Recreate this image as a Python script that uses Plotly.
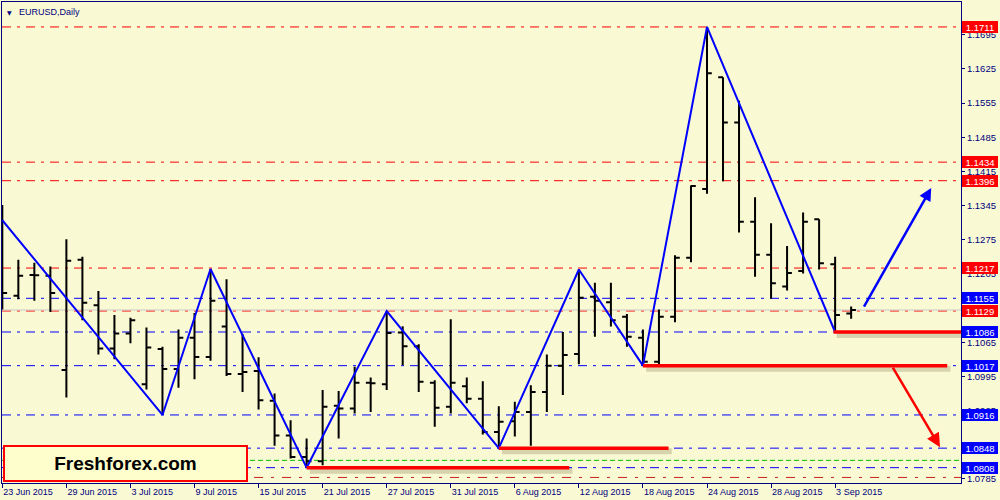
import pandas as pd
import plotly.graph_objects as go

# EURUSD daily bars, 23 Jun 2015 - 4 Sep 2015 (one bar per trading day)
dates = pd.bdate_range("2015-06-23", "2015-09-04")
bar_idx = list(range(len(dates)))

opens = [1.1337, 1.1160, 1.1203, 1.1201, 1.1008, 1.1234, 1.1141, 1.1052, 1.1083, 1.0979,
         1.1051, 1.1010, 1.1074, 1.1035, 1.1097, 1.1000, 1.1006, 1.0945, 1.0874, 1.0830,
         1.0821, 1.0935, 1.0929, 1.0982, 1.0979, 1.1085, 1.1057, 1.0982, 1.0933, 1.0975,
         1.0949, 1.0881, 1.0903, 1.0922, 1.0963, 1.1017, 1.1041, 1.1158, 1.1147, 1.1117,
         1.1074, 1.1025, 1.1117, 1.1238, 1.1379, 1.1608, 1.1515, 1.1312, 1.1244, 1.1179,
         1.1211, 1.1317, 1.1225, 1.1124]
highs = [1.1346, 1.1234, 1.1228, 1.1220, 1.1276, 1.1240, 1.1170, 1.1121, 1.1115, 1.1095,
         1.1056, 1.1091, 1.1125, 1.1215, 1.1194, 1.1082, 1.1034, 1.0960, 1.0905, 1.0868,
         1.0967, 1.0965, 1.1015, 1.0993, 1.1129, 1.1098, 1.1061, 1.0987, 1.1112, 1.0993,
         1.0985, 1.0934, 1.0943, 1.0977, 1.1040, 1.1086, 1.1214, 1.1187, 1.1187, 1.1123,
         1.1091, 1.1132, 1.1243, 1.1386, 1.1711, 1.1608, 1.1560, 1.1362, 1.1309, 1.1262,
         1.1331, 1.1317, 1.1240, 1.1138]
lows = [1.1132, 1.1153, 1.1150, 1.1127, 1.0952, 1.1110, 1.1040, 1.1030, 1.1063, 1.0968,
        1.0916, 1.0972, 1.0989, 1.1027, 1.0996, 1.0963, 1.0927, 1.0853, 1.0827, 1.0808,
        1.0813, 1.0868, 1.0919, 1.0922, 1.0967, 1.1018, 1.0963, 1.0892, 1.0919, 1.0940,
        1.0876, 1.0848, 1.0872, 1.0853, 1.0922, 1.0957, 1.1020, 1.1076, 1.1097, 1.1056,
        1.1017, 1.1018, 1.1106, 1.1229, 1.1369, 1.1395, 1.1290, 1.1199, 1.1154, 1.1171,
        1.1206, 1.1214, 1.1086, 1.1113]
closes = [1.1166, 1.1201, 1.1202, 1.1166, 1.1232, 1.1146, 1.1052, 1.1083, 1.1110, 1.1054,
          1.1010, 1.1074, 1.1035, 1.1150, 1.1000, 1.1004, 1.0946, 1.0874, 1.0830, 1.0821,
          1.0933, 1.0929, 1.0982, 1.0981, 1.1084, 1.1057, 1.0984, 1.0931, 1.0982, 1.0949,
          1.0881, 1.0902, 1.0922, 1.0963, 1.1017, 1.1039, 1.1156, 1.1150, 1.1110, 1.1076,
          1.1025, 1.1117, 1.1238, 1.1385, 1.1616, 1.1515, 1.1312, 1.1244, 1.1186, 1.1207,
          1.1312, 1.1227, 1.1121, 1.1131]

# zigzag swing points (bar index, price)
zz_idx = [0, 10, 13, 19, 24, 31, 36, 40, 44, 52]
zz_price = [1.1315, 1.0916, 1.1215, 1.0808, 1.1129, 1.0848, 1.1214, 1.1017, 1.1711, 1.1086]

# horizontal levels
red_levels = [1.1711, 1.1434, 1.1396, 1.1217, 1.1129]
blue_levels = [1.1155, 1.1086, 1.1017, 1.0916, 1.0848, 1.0808]
green_level = 1.0823
darkred_level = 1.0788
bid_level = 1.1131

# thick red support segments: (from bar, to bar, price)
supports = [(19, 35.4, 1.0808), (31, 41.6, 1.0848), (40, 59.0, 1.1017), (51.9, 59.9, 1.1086)]

# arrows: (tail bar, tail price, head bar, head price)
up_arrow = (53.75, 1.1135, 58.0, 1.1381)
down_arrow = (55.55, 1.1016, 58.55, 1.0850)

y_ticks = [1.0785, 1.0855, 1.0925, 1.0995, 1.1065, 1.1135, 1.1205,
           1.1275, 1.1345, 1.1415, 1.1485, 1.1555, 1.1625, 1.1695]
# these two sit fully under level labels on the scale
hidden_ticks = [1.0855, 1.1135]

tick_idx = bar_idx[::4]
tick_text = [f"{d.day} {d:%b %Y}" for d in dates[::4]]

BG = "#F9F9D3"
NAVY = "#000080"
DASHDOT = "9px,6px,3px,6px"

fig = go.Figure()

fig.add_trace(go.Ohlc(
    x=bar_idx, open=opens, high=highs, low=lows, close=closes,
    increasing=dict(line=dict(color="black", width=2)),
    decreasing=dict(line=dict(color="black", width=2)),
    tickwidth=0.3, hoverinfo="skip",
))

fig.add_trace(go.Scatter(
    x=zz_idx, y=zz_price, mode="lines",
    line=dict(color="#0000FF", width=2), hoverinfo="skip",
))

# dash-dot levels across the whole chart
for lv in red_levels:
    fig.add_shape(type="line", xref="paper", x0=0, x1=1, yref="y", y0=lv, y1=lv,
                  line=dict(color="#FF0000", width=1, dash=DASHDOT), layer="below")
for lv in blue_levels:
    fig.add_shape(type="line", xref="paper", x0=0, x1=1, yref="y", y0=lv, y1=lv,
                  line=dict(color="#0000FF", width=1, dash=DASHDOT), layer="below")
fig.add_shape(type="line", xref="paper", x0=0, x1=1, yref="y", y0=green_level, y1=green_level,
              line=dict(color="#00C000", width=1, dash="5px,3px"), layer="below")
fig.add_shape(type="line", xref="paper", x0=0, x1=1, yref="y", y0=darkred_level, y1=darkred_level,
              line=dict(color="#C82020", width=1, dash="9px,8px,3px,8px"), layer="below")
fig.add_shape(type="line", xref="paper", x0=0, x1=1, yref="y", y0=bid_level, y1=bid_level,
              line=dict(color="#C8C8C8", width=1), layer="below")

# red support segments with a soft shadow
for x0, x1, lv in supports:
    fig.add_shape(type="line", x0=x0 + 0.2, x1=x1 + 0.2, ysizemode="pixel", yanchor=lv,
                  y0=-3, y1=-3, line=dict(color="rgba(110,100,60,0.25)", width=6))
    fig.add_shape(type="line", x0=x0, x1=x1, y0=lv, y1=lv,
                  line=dict(color="#FF0000", width=3.5))

# arrows
tx, ty, hx, hy = up_arrow
fig.add_annotation(x=hx, y=hy, ax=tx, ay=ty, xref="x", yref="y", axref="x", ayref="y",
                   text="", showarrow=True, arrowhead=2, arrowsize=1.0, arrowwidth=2.5,
                   arrowcolor="#0000FF", standoff=0)
tx, ty, hx, hy = down_arrow
fig.add_annotation(x=hx, y=hy, ax=tx, ay=ty, xref="x", yref="y", axref="x", ayref="y",
                   text="", showarrow=True, arrowhead=2, arrowsize=1.1, arrowwidth=2.5,
                   arrowcolor="#FF0000", standoff=0)

# price labels on the right scale
for lv, col in [(v, "#FF0000") for v in red_levels] + [(v, "#0000FF") for v in blue_levels]:
    fig.add_annotation(x=1, xref="paper", xanchor="left", xshift=1, y=lv, yref="y",
                       text=f"{lv:.4f}", showarrow=False, bgcolor=col, bordercolor=col,
                       borderwidth=1, borderpad=0, width=34, height=10, align="center",
                       font=dict(family="Liberation Sans", size=9.5, color="white"))

# chart title
fig.add_annotation(x=0, y=1, xref="paper", yref="paper", xanchor="left", yanchor="top",
                   xshift=3, yshift=-5, text="▼", showarrow=False,
                   font=dict(family="DejaVu Sans", size=6, color=NAVY))
fig.add_annotation(x=0, y=1, xref="paper", yref="paper", xanchor="left", yanchor="top",
                   xshift=15, yshift=-3, text="EURUSD,Daily", showarrow=False,
                   font=dict(family="Liberation Sans", size=9, color=NAVY))

# logo box
fig.add_annotation(x=0, y=0, xref="paper", yref="paper", xanchor="left", yanchor="bottom",
                   xshift=1, yshift=1, text="<b>Freshforex.com</b>", showarrow=False,
                   bgcolor="#FEFECC", bordercolor="#FF0000", borderwidth=2, borderpad=1,
                   width=239, height=31, align="center",
                   font=dict(family="Liberation Sans", size=19, color="black"))

fig.update_layout(
    template="none",
    width=1000, height=500,
    margin=dict(l=2, r=39, t=2, b=17),
    paper_bgcolor=BG, plot_bgcolor=BG,
    showlegend=False,
    font=dict(family="Liberation Sans", size=9, color=NAVY),
)
fig.update_xaxes(
    range=[-0.02, 59.86], tickvals=tick_idx, ticktext=tick_text,
    ticks="outside", ticklen=4, tickcolor=NAVY, ticklabelposition="outside right",
    showgrid=False, zeroline=False, showline=True, mirror=True,
    linecolor=NAVY, linewidth=1, automargin=False, rangeslider_visible=False,
    tickfont=dict(family="Liberation Sans", size=9, color=NAVY),
)
fig.update_yaxes(
    side="right", range=[1.07766, 1.17621], tickvals=y_ticks,
    ticktext=["" if v in hidden_ticks else f"{v:.4f}" for v in y_ticks],
    ticks="outside", ticklen=3, tickcolor=NAVY,
    showgrid=False, zeroline=False, showline=True, mirror=True,
    linecolor=NAVY, linewidth=1, automargin=False,
    tickfont=dict(family="Liberation Sans", size=9.5, color=NAVY),
)

# page body has a default margin; remove it so the figure fills the window
fig.write_html("out.html", config={"displayModeBar": False},
               post_script="document.body.style.margin='0';")
